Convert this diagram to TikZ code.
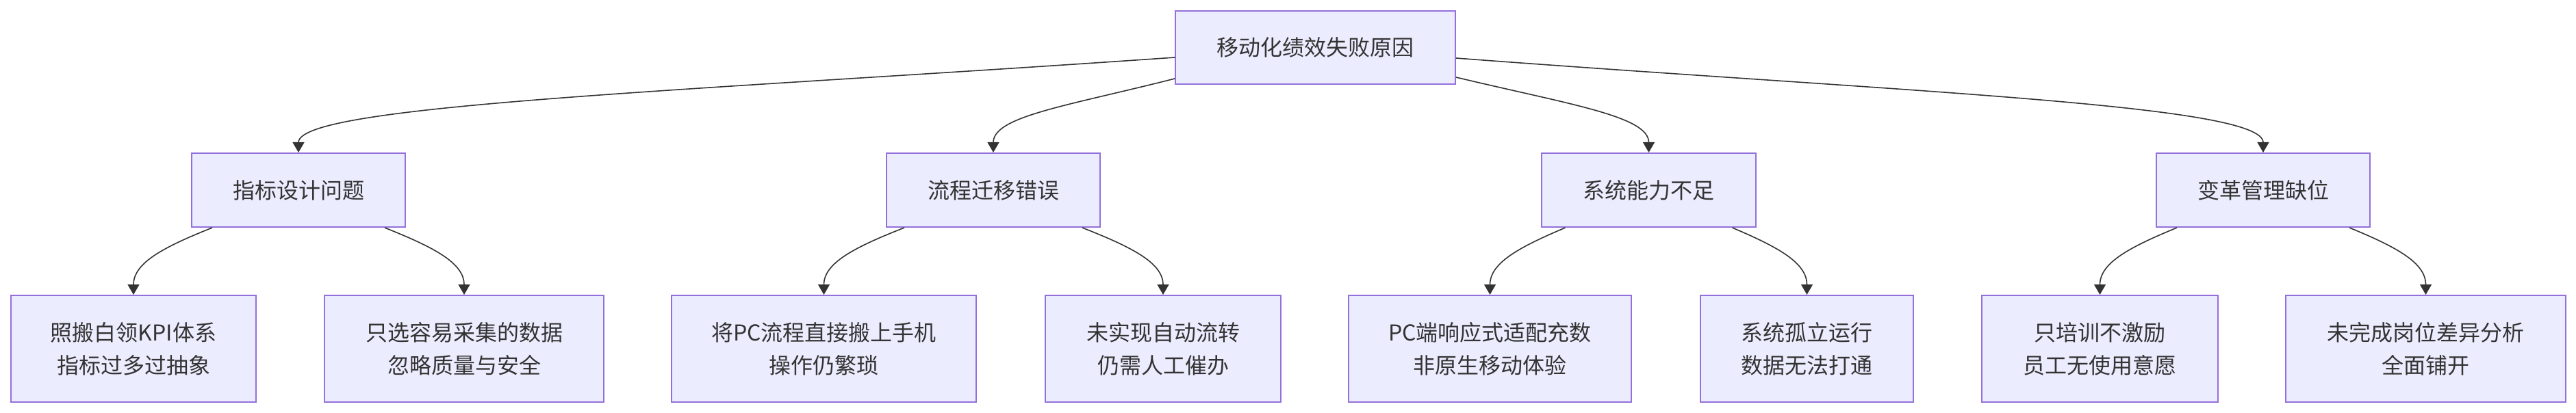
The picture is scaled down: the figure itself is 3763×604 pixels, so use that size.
\documentclass[tikz,border=0pt]{standalone}
\usepackage{fontspec}
\newfontfamily\cjk{Noto Sans CJK SC}
\usetikzlibrary{arrows.meta}
\definecolor{boxfill}{HTML}{ECECFF}
\definecolor{boxline}{HTML}{9370DB}
\definecolor{ink}{HTML}{333333}
\begin{document}
\begin{tikzpicture}[x=0.5pt,y=-0.5pt,
  box/.style={draw=boxline, fill=boxfill, line width=1pt, inner sep=0pt,
    text=ink, align=center, font=\cjk\fontsize{16pt}{24pt}\selectfont},
  topbox/.style={box, minimum height=53.5pt},
  midbox/.style={box, minimum height=54pt},
  leafbox/.style={box, minimum height=78pt},
  edge/.style={draw=ink, line width=0.8pt, -{Triangle[length=7.5pt,width=8.5pt]}}]
\useasboundingbox (0,0) rectangle (3763,604);
% nodes
\node[topbox, minimum width=204.5pt] (root) at (1921.5,69.5) {移动化绩效失败原因};
\node[midbox, minimum width=156pt] (m1) at (436,278) {指标设计问题};
\node[midbox, minimum width=156pt] (m2) at (1451,278) {流程迁移错误};
\node[midbox, minimum width=156.5pt] (m3) at (2408.5,278) {系统能力不足};
\node[midbox, minimum width=156pt] (m4) at (3306,278) {变革管理缺位};
\node[leafbox, minimum width=179pt] (l1) at (195,510) {照搬白领KPI体系\\指标过多过抽象};
\node[leafbox, minimum width=204pt] (l2) at (678,510) {只选容易采集的数据\\忽略质量与安全};
\node[leafbox, minimum width=222.5pt] (l3) at (1203.5,510) {将PC流程直接搬上手机\\操作仍繁琐};
\node[leafbox, minimum width=172pt] (l4) at (1699,510) {未实现自动流转\\仍需人工催办};
\node[leafbox, minimum width=206.5pt] (l5) at (2176.5,510) {PC端响应式适配充数\\非原生移动体验};
\node[leafbox, minimum width=155.5pt] (l6) at (2639.5,510) {系统孤立运行\\数据无法打通};
\node[leafbox, minimum width=172.5pt] (l7) at (3067.5,510) {只培训不激励\\员工无使用意愿};
\node[leafbox, minimum width=204.5pt] (l8) at (3543.5,510) {未完成岗位差异分析\\全面铺开};
% root edges
\draw[edge] ([yshift=-7.25pt]root.west) .. controls +(-717,50) and +(0,-70) .. (m1.north);
\draw[edge] ([yshift=-22.75pt]root.west) .. controls +(-157,40) and +(0,-53) .. (m2.north);
\draw[edge] ([yshift=-21.75pt]root.east) .. controls +(167,40) and +(0,-53) .. (m3.north);
\draw[edge] ([yshift=-7.75pt]root.east) .. controls +(661,50) and +(0,-70) .. (m4.north);
% mid to leaf edges
\draw[edge] ([xshift=-63pt]m1.south) .. controls +(-70,28) and +(0,-47) .. (l1.north);
\draw[edge] ([xshift=63pt]m1.south) .. controls +(70,28) and +(0,-47) .. (l2.north);
\draw[edge] ([xshift=-65pt]m2.south) .. controls +(-71,28) and +(0,-47) .. (l3.north);
\draw[edge] ([xshift=65pt]m2.south) .. controls +(71,28) and +(0,-47) .. (l4.north);
\draw[edge] ([xshift=-61pt]m3.south) .. controls +(-66,28) and +(0,-47) .. (l5.north);
\draw[edge] ([xshift=61pt]m3.south) .. controls +(66,28) and +(0,-47) .. (l6.north);
\draw[edge] ([xshift=-63pt]m4.south) .. controls +(-68,28) and +(0,-47) .. (l7.north);
\draw[edge] ([xshift=63pt]m4.south) .. controls +(68,28) and +(0,-47) .. (l8.north);
\end{tikzpicture}
\end{document}
